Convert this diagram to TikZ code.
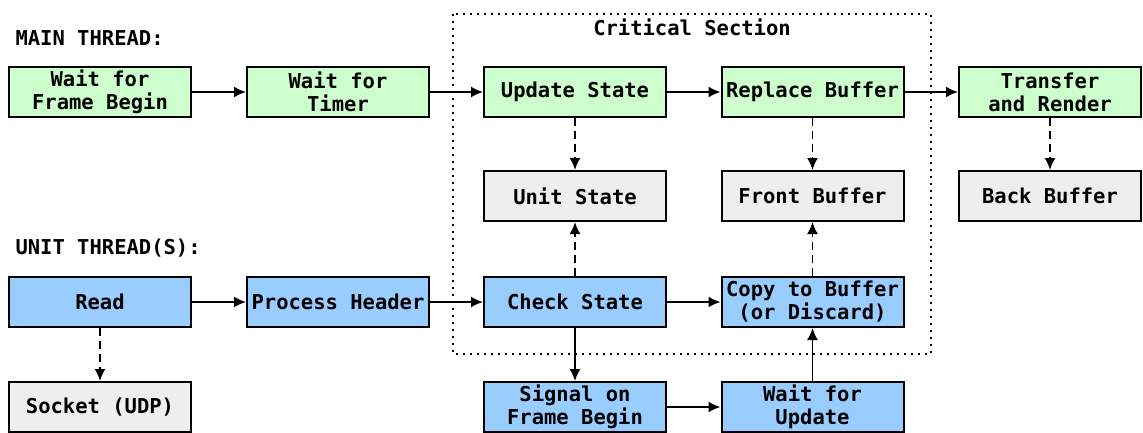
\documentclass[tikz,border=0pt]{standalone}
\usepackage{fontspec}
\setmonofont{DejaVu Sans Mono}
\usetikzlibrary{arrows.meta}

\definecolor{mainfill}{HTML}{CCFFCC}
\definecolor{unitfill}{HTML}{99CCFF}
\definecolor{datafill}{HTML}{EEEEEE}

\begin{document}
\begin{tikzpicture}[x=1pt,y=-1pt,
    every node/.style={font=\ttfamily\bfseries\fontsize{20.5}{23}\selectfont},
    box/.style={draw,line width=2pt,minimum width=182pt,minimum height=50pt,inner sep=0pt,align=center},
    mainbox/.style={box,fill=mainfill},
    unitbox/.style={box,fill=unitfill},
    databox/.style={box,fill=datafill},
    flow/.style={-{Latex[length=12pt,width=11pt]},line width=1.8pt},
    ref/.style={flow,dash pattern=on 8pt off 5pt}]
  \useasboundingbox (0,0) rectangle (1143,432);

  % critical section frame
  \draw [line width=1.8pt,dash pattern=on 1.8pt off 5.2pt] (453,14) rectangle (931,354);
  \node (crit) at (692,27) {Critical Section};

  \node [anchor=west] (mainlbl) at (12,38) {MAIN THREAD:};
  \node [anchor=west] (unitlbl) at (12,248) {UNIT THREAD(S):};

  % main thread
  \node [mainbox] (waitframe) at (100,92) {Wait for\\Frame Begin};
  \node [mainbox] (waittimer) at (338,92) {Wait for\\Timer};
  \node [mainbox] (update) at (575,92) {Update State};
  \node [mainbox] (replace) at (812.5,92) {Replace Buffer};
  \node [mainbox] (render) at (1050,92) {Transfer\\and Render};

  % shared data
  \node [databox] (unitstate) at (575,196) {Unit State};
  \node [databox] (front) at (812.5,196) {Front Buffer};
  \node [databox] (back) at (1050,196) {Back Buffer};
  \node [databox] (socket) at (100,407) {Socket (UDP)};

  % unit threads
  \node [unitbox] (read) at (100,302) {Read};
  \node [unitbox] (header) at (338,302) {Process Header};
  \node [unitbox] (check) at (575,302) {Check State};
  \node [unitbox] (copy) at (812.5,302) {Copy to Buffer\\(or Discard)};
  \node [unitbox] (signal) at (575,407) {Signal on\\Frame Begin};
  \node [unitbox] (waitupd) at (812.5,407) {Wait for\\Update};

  \draw [flow] (waitframe) -- (waittimer);
  \draw [flow] (waittimer) -- (update);
  \draw [flow] (update) -- (replace);
  \draw [flow] (replace) -- (render);

  \draw [ref] (update) -- (unitstate);
  \draw [ref] (replace) -- (front);
  \draw [ref] (render) -- (back);
  \draw [ref] (read) -- (socket);
  \draw [ref] (check) -- (unitstate);
  \draw [ref] (copy) -- (front);

  \draw [flow] (read) -- (header);
  \draw [flow] (header) -- (check);
  \draw [flow] (check) -- (copy);
  \draw [flow] (check) -- (signal);
  \draw [flow] (signal) -- (waitupd);
  \draw [flow] (waitupd) -- (copy);
\end{tikzpicture}
\end{document}
